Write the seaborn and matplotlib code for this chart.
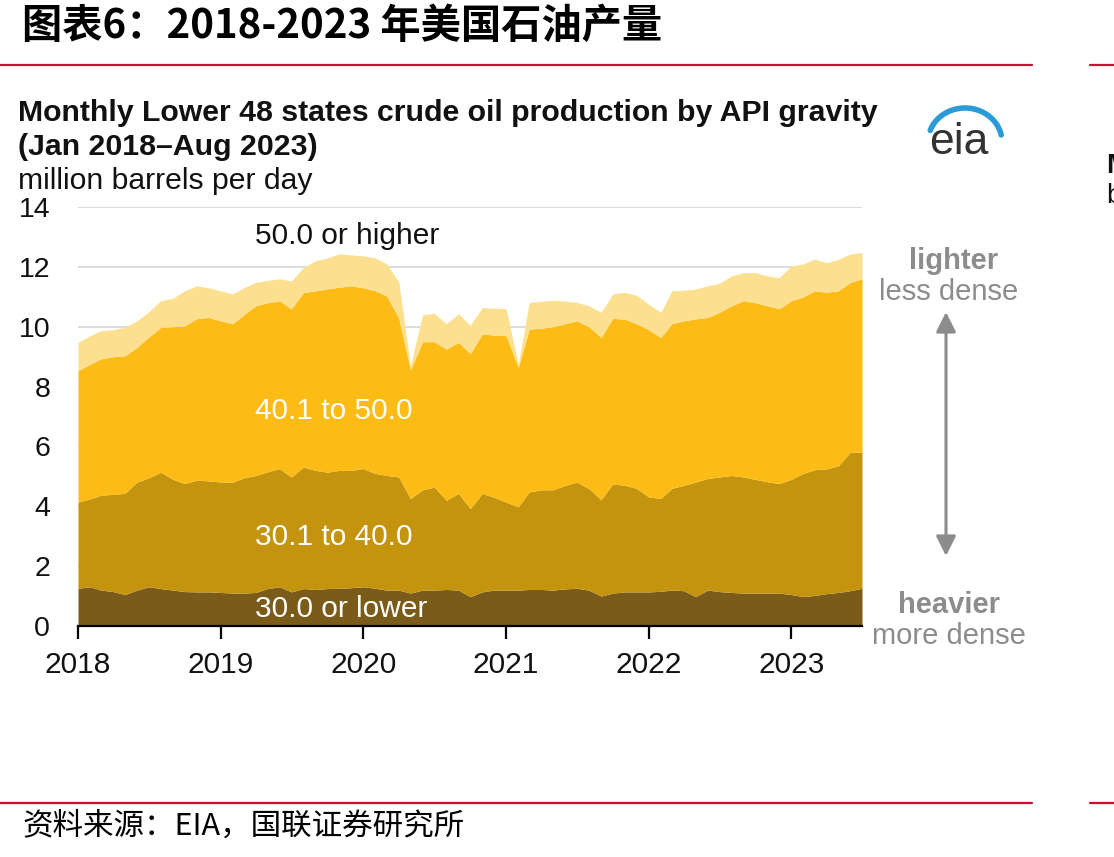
import numpy as np
import pandas as pd
import seaborn as sns
import matplotlib.pyplot as plt
import matplotlib.dates as mdates

sns.set_theme(style="white")
plt.rcParams['font.family'] = ['Liberation Sans', 'Noto Sans CJK SC', 'DejaVu Sans']

# monthly data, Jan 2018 onwards (million barrels per day)
months = pd.date_range("2018-01-01", periods=67, freq="MS")

api_30_lower = [1.26, 1.31, 1.20, 1.15, 1.05, 1.20, 1.31, 1.25, 1.20, 1.15, 1.14, 1.14,
                1.12, 1.10, 1.10, 1.12, 1.25, 1.31, 1.14, 1.25, 1.22, 1.25, 1.26, 1.28,
                1.31, 1.26, 1.20, 1.20, 1.10, 1.20, 1.20, 1.22, 1.20, 0.98, 1.14, 1.20,
                1.20, 1.20, 1.22, 1.22, 1.20, 1.24, 1.26, 1.20, 1.00, 1.10, 1.14, 1.14,
                1.14, 1.16, 1.20, 1.18, 0.98, 1.20, 1.15, 1.12, 1.10, 1.10, 1.10, 1.10,
                1.05, 0.98, 1.02, 1.08, 1.12, 1.18, 1.26]
api_30_40 = [2.88, 2.94, 3.17, 3.25, 3.38, 3.61, 3.64, 3.89, 3.70, 3.61, 3.73, 3.71,
             3.69, 3.71, 3.85, 3.91, 3.90, 3.95, 3.84, 4.06, 3.98, 3.89, 3.94, 3.92,
             3.95, 3.84, 3.83, 3.78, 3.16, 3.35, 3.44, 2.98, 3.23, 2.94, 3.29, 3.10,
             2.94, 2.78, 3.26, 3.33, 3.35, 3.46, 3.55, 3.39, 3.22, 3.65, 3.56, 3.46,
             3.17, 3.10, 3.40, 3.52, 3.83, 3.73, 3.83, 3.91, 3.88, 3.80, 3.72, 3.66,
             3.85, 4.12, 4.20, 4.17, 4.23, 4.63, 4.55]
api_40_50 = [4.39, 4.50, 4.56, 4.60, 4.60, 4.50, 4.70, 4.84, 5.10, 5.27, 5.40, 5.46,
             5.39, 5.29, 5.45, 5.67, 5.65, 5.61, 5.62, 5.83, 6.00, 6.13, 6.12, 6.17,
             6.04, 6.10, 6.00, 5.32, 4.29, 4.95, 4.86, 5.05, 5.05, 5.18, 5.33, 5.42,
             5.56, 4.66, 5.44, 5.40, 5.45, 5.40, 5.39, 5.41, 5.42, 5.53, 5.55, 5.50,
             5.59, 5.38, 5.50, 5.50, 5.45, 5.38, 5.50, 5.67, 5.89, 5.90, 5.88, 5.84,
             5.97, 5.90, 5.98, 5.90, 5.85, 5.67, 5.79]
api_50_higher = [0.95, 0.95, 0.94, 0.90, 0.95, 0.89, 0.85, 0.89, 0.95, 1.17, 1.10, 0.99,
                 1.00, 1.00, 0.90, 0.78, 0.75, 0.73, 0.93, 0.84, 1.00, 1.03, 1.12, 1.03,
                 1.07, 1.10, 1.07, 1.20, 0.15, 0.90, 0.95, 0.85, 0.95, 0.95, 0.88, 0.90,
                 0.90, 0.10, 0.89, 0.90, 0.88, 0.76, 0.61, 0.70, 0.84, 0.82, 0.90, 0.95,
                 0.85, 0.84, 1.10, 1.02, 1.00, 1.06, 0.97, 1.00, 0.94, 1.01, 1.00, 1.04,
                 1.16, 1.10, 1.06, 0.99, 1.05, 0.95, 0.88]

series_names = ["30.0 or lower", "30.1 to 40.0", "40.1 to 50.0", "50.0 or higher"]
colors = ["#7b5b19", "#c4940f", "#fdbc15", "#fde08f"]

df = pd.DataFrame({"month": months,
                   series_names[0]: api_30_lower,
                   series_names[1]: api_30_40,
                   series_names[2]: api_40_50,
                   series_names[3]: api_50_higher})

W, H = 1114, 857
fig = plt.figure(figsize=(W / 100, H / 100), dpi=100)

def fx(x):
    return x / W

def fy(y):
    return 1 - y / H

ax = fig.add_axes([fx(78), fy(626), fx(862) - fx(78), fy(207) - fy(626)])
ax.stackplot(df["month"], [df[c] for c in series_names], colors=colors, linewidth=0, zorder=2)

ax.set_xlim(months[0], months[-1])
ax.set_ylim(0, 14)
ax.set_yticks(range(0, 15, 2))
ax.yaxis.grid(True, color="#d9d9d9", linewidth=1.3, zorder=0)
ax.xaxis.grid(False)
ax.set_axisbelow(True)
for s in ["top", "right", "left"]:
    ax.spines[s].set_visible(False)
ax.spines["bottom"].set_color("black")
ax.spines["bottom"].set_linewidth(1.6)
ax.spines["bottom"].set_zorder(5)
ax.xaxis.set_major_locator(mdates.YearLocator())
ax.xaxis.set_major_formatter(mdates.DateFormatter("%Y"))
ax.tick_params(axis="x", direction="out", length=9, width=1.6, color="black",
               labelsize=21.5, pad=9, bottom=True)
ax.tick_params(axis="y", length=0, labelsize=20.5, pad=20)
for lab in ax.get_xticklabels() + ax.get_yticklabels():
    lab.set_color("#111111")

# in-chart labels
lab_font = dict(fontsize=21.5, ha="left", va="center")
fig.text(fx(255), fy(236), "50.0 or higher", color="#111111", **lab_font)
fig.text(fx(255), fy(411), "40.1 to 50.0", color="white", **lab_font)
fig.text(fx(255), fy(537), "30.1 to 40.0", color="white", **lab_font)
fig.text(fx(255), fy(609), "30.0 or lower", color="white", **lab_font)

# right side density annotation
gray = "#8c8c8c"
fig.text(fx(954), fy(261), "lighter", color=gray, fontsize=21, fontweight="bold", ha="center", va="center")
fig.text(fx(949), fy(292), "less dense", color=gray, fontsize=21, ha="center", va="center")
fig.text(fx(949), fy(605), "heavier", color=gray, fontsize=21, fontweight="bold", ha="center", va="center")
fig.text(fx(949), fy(636), "more dense", color=gray, fontsize=21, ha="center", va="center")
fig.add_artist(plt.Annotation("", xy=(fx(946), fy(312)), xytext=(fx(946), fy(556)),
                              xycoords="figure fraction", textcoords="figure fraction",
                              arrowprops=dict(arrowstyle="<|-|>", color=gray, lw=2.2,
                                              mutation_scale=30, shrinkA=0, shrinkB=0)))

# chart header (EIA style)
fig.text(fx(18), fy(113), "Monthly Lower 48 states crude oil production by API gravity",
         fontsize=21.8, fontweight="bold", color="#111111", ha="left", va="center")
fig.text(fx(18), fy(147), "(Jan 2018\u2013Aug 2023)",
         fontsize=21.8, fontweight="bold", color="#111111", ha="left", va="center")
fig.text(fx(18), fy(181), "million barrels per day", fontsize=21.7, color="#111111",
         ha="left", va="center")

# eia logo
fig.text(fx(959), fy(143), "eia", fontsize=32, color="#333333", ha="center", va="center")
logo = fig.add_axes([fx(900), fy(170), fx(1020) - fx(900), fy(90) - fy(170)])
theta = np.radians(np.linspace(160, 12, 60))
logo.plot(965 + 37 * np.cos(theta), 142 - 34 * np.sin(theta),
          color="#2b9bd8", lw=4, solid_capstyle="round")
logo.set_xlim(900, 1020)
logo.set_ylim(170, 90)
logo.axis("off")

# report frame: title, red rules, source
fig.text(fx(22), fy(26), "图表6：2018-2023 年美国石油产量", fontsize=29, fontweight="bold",
         family=["Noto Sans CJK SC", "DejaVu Sans"], ha="left", va="center", color="black")
red = "#c8102e"
for yy in (65, 803):
    fig.add_artist(plt.Line2D([0, fx(1032)], [fy(yy), fy(yy)], color=red, lw=1.6))
    fig.add_artist(plt.Line2D([fx(1090), 1], [fy(yy), fy(yy)], color=red, lw=1.6))
fig.text(fx(22), fy(826), "资料来源：EIA，国联证券研究所", fontsize=22,
         family=["Noto Sans CJK SC", "DejaVu Sans"], ha="left", va="center", color="black")

# cut-off text of the neighbouring chart at the right edge
fig.text(fx(1106), fy(166), "M", fontsize=20, fontweight="bold", color="#111111", ha="left", va="center")
fig.text(fx(1106), fy(196), "b", fontsize=20, color="#111111", ha="left", va="center")

fig.savefig("out.png", dpi=100)
